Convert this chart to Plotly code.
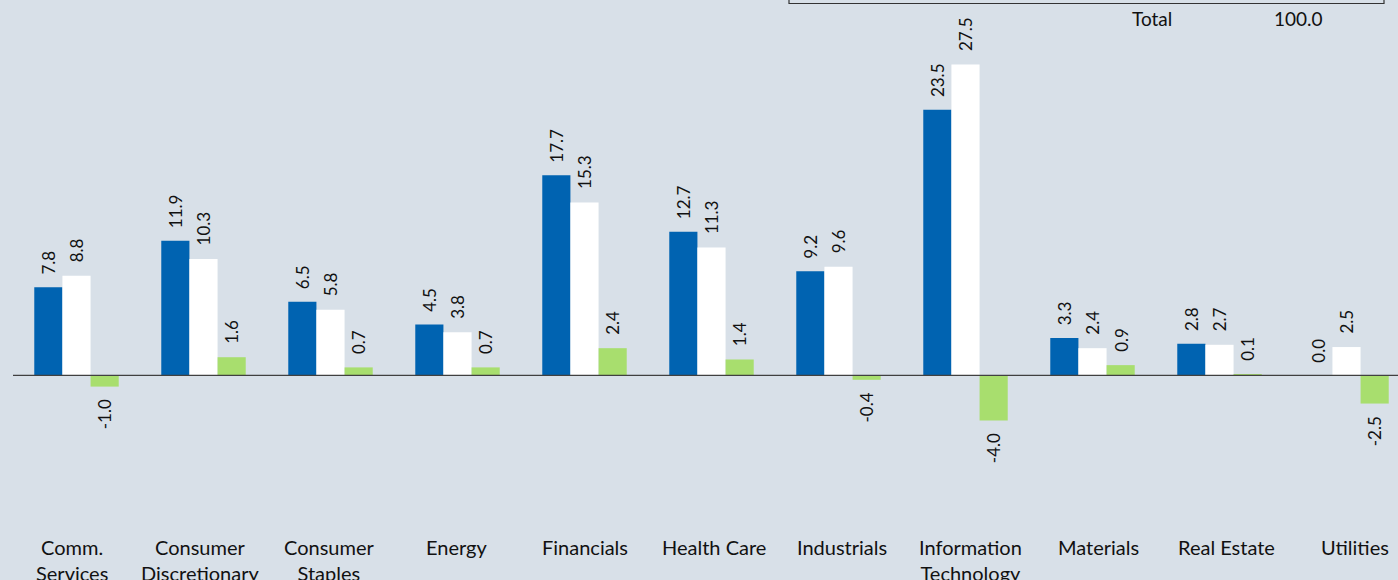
import plotly.graph_objects as go

# ---- data ----
categories = ["Comm.<br>Services", "Consumer<br>Discretionary", "Consumer<br>Staples", "Energy",
              "Financials", "Health Care", "Industrials", "Information<br>Technology",
              "Materials", "Real Estate", "Utilities"]
series_blue = [7.8, 11.9, 6.5, 4.5, 17.7, 12.7, 9.2, 23.5, 3.3, 2.8, 0.0]
series_white = [8.8, 10.3, 5.8, 3.8, 15.3, 11.3, 9.6, 27.5, 2.4, 2.7, 2.5]
series_diff = [-1.0, 1.6, 0.7, 0.7, 2.4, 1.4, -0.4, -4.0, 0.9, 0.1, -2.5]
table_label = "Total"
table_value = "100.0"

# ---- style ----
BG = "#D8E0E8"
BLUE = "#0063B1"
WHITE = "#FFFFFF"
GREEN = "#A8DE6E"
TEXT = "#111111"
FONT = "Lato, 'Noto Sans', sans-serif"

W, H = 1398, 580
ML, MR, MT, MB = 13, 0, 0, 50
pitch = 127.0
plot_w = W - ML - MR
plot_h = H - MT - MB
px_per_unit = 11.3
zero_px = 375.3
y_top = (zero_px - MT) / px_per_unit
y_bot = -(MT + plot_h - zero_px) / px_per_unit
bargap = 0.335
bar_w = (1 - bargap) / 3
label_pitch = 128.3   # category labels are spaced slightly wider than the bar groups
label_start = 72.0

idx = list(range(len(categories)))

fig = go.Figure()
series = [(series_blue, BLUE), (series_white, WHITE), (series_diff, GREEN)]
for vals, col in series:
    fig.add_trace(go.Bar(x=idx, y=vals, marker=dict(color=col, line=dict(width=0)),
                         showlegend=False, hoverinfo="skip"))

annotations = []
for j, (vals, col) in enumerate(series):
    for i, v in zip(idx, vals):
        annotations.append(dict(
            x=i + (j - 1) * bar_w, y=v, xref="x", yref="y",
            text=f"{v:.1f}", showarrow=False, textangle=-90,
            yanchor="bottom" if v >= 0 else "top",
            yshift=11 if v >= 0 else -11,
            font=dict(family=FONT, size=17, color=TEXT)))

for i, c in zip(idx, categories):
    lx = (label_start + label_pitch * i - ML) / pitch - 0.5
    annotations.append(dict(
        x=lx, y=0, xref="x", yref="paper", text=c, showarrow=False,
        yanchor="top", yshift=-3, align="center",
        font=dict(family=FONT, size=20, color=TEXT)))

# table fragment at top
annotations.append(dict(x=(1151.7 - ML) / plot_w, y=(H - MB - 19) / plot_h, xref="paper", yref="paper",
                        text=table_label, showarrow=False, xanchor="center", yanchor="middle",
                        font=dict(family=FONT, size=19, color=TEXT)))
annotations.append(dict(x=(1298 - ML) / plot_w, y=(H - MB - 19) / plot_h, xref="paper", yref="paper",
                        text=table_value, showarrow=False, xanchor="center", yanchor="middle",
                        font=dict(family=FONT, size=19, color=TEXT)))

shapes = [
    dict(type="rect", xref="paper", yref="paper",
         x0=(789 - ML) / plot_w, x1=(1384 - ML) / plot_w,
         y0=(plot_h - 3.5) / plot_h, y1=1.2,
         line=dict(color="#333333", width=1.2), fillcolor="rgba(0,0,0,0)"),
    dict(type="line", xref="paper", yref="y", x0=0, x1=1, y0=0, y1=0,
         line=dict(color="#404040", width=1.3), layer="above"),
]

fig.update_layout(
    width=W, height=H,
    margin=dict(l=ML, r=MR, t=MT, b=MB, pad=0),
    paper_bgcolor=BG, plot_bgcolor=BG,
    barmode="group", bargap=bargap, bargroupgap=0,
    xaxis=dict(range=[-0.5, -0.5 + plot_w / pitch], showticklabels=False, showgrid=False,
               zeroline=False, showline=False, ticks=""),
    yaxis=dict(range=[y_bot, y_top], showticklabels=False, showgrid=False,
               zeroline=False, showline=False, ticks=""),
    annotations=annotations, shapes=shapes,
    font=dict(family=FONT, color=TEXT),
)

fig.write_html("out.html", config={"displayModeBar": False},
               post_script="document.body.style.margin='0';document.body.style.overflow='hidden';"
                           "document.body.style.background='" + BG + "';")
